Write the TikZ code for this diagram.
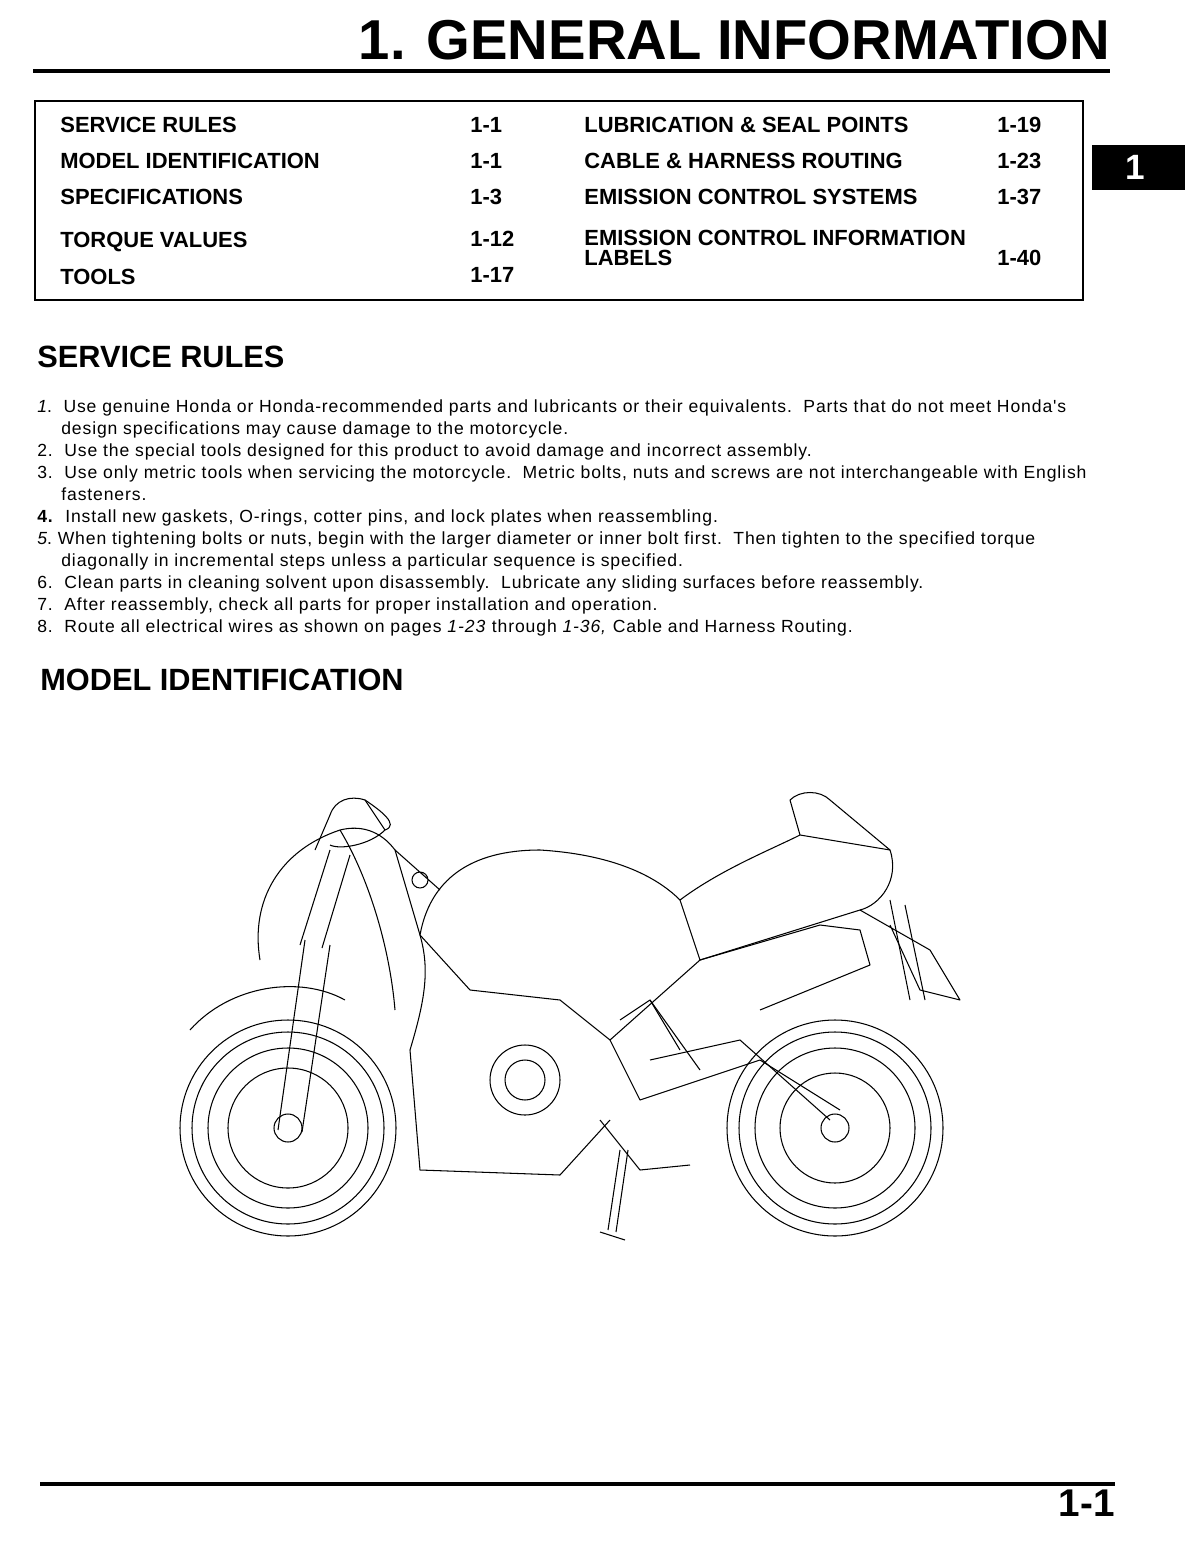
\documentclass[tikz,border=0pt]{standalone}
\usepackage{fontspec}
\setmainfont{Liberation Sans}
\newfontfamily\spacedfont[LetterSpace=5]{Liberation Sans}
\usetikzlibrary{positioning}
\begin{document}
\begin{tikzpicture}[x=0.02cm,y=-0.02cm,
    toc/.style={anchor=base west, font=\fontsize{12.5}{14}\selectfont\bfseries, inner sep=0pt},
    rule/.style={anchor=base west, font=\spacedfont\fontsize{10}{11}\selectfont, inner sep=0pt},
    head/.style={anchor=base west, font=\fontsize{17.5}{20}\selectfont\bfseries, inner sep=0pt},
    bike/.style={line width=0.6pt, line join=round}
  ]
  \useasboundingbox (0,0) rectangle (1188,1561);
  % title
  \node[anchor=base east, font=\fontsize{32}{34}\selectfont\bfseries, inner sep=0pt] (title) at (1110,60) {1. GENERAL INFORMATION};
  \draw[line width=2.2pt] (33,71) -- (1110,71);
  % contents box
  \draw[line width=0.8pt] (35,101) rectangle (1083,300);
  \node[toc] (t1) at (60,133) {SERVICE RULES};
  \node[toc] (t2) at (60,169) {MODEL IDENTIFICATION};
  \node[toc] (t3) at (60,205) {SPECIFICATIONS};
  \node[toc] (t4) at (60,248) {TORQUE VALUES};
  \node[toc] (t5) at (60,284) {TOOLS};
  \node[toc] (p1) at (470,133) {1-1};
  \node[toc] (p2) at (470,169) {1-1};
  \node[toc] (p3) at (470,205) {1-3};
  \node[toc] (p4) at (470,246) {1-12};
  \node[toc] (p5) at (470,282) {1-17};
  \node[toc] (r1) at (584,133) {LUBRICATION \& SEAL POINTS};
  \node[toc] (r2) at (584,169) {CABLE \& HARNESS ROUTING};
  \node[toc] (r3) at (584,205) {EMISSION CONTROL SYSTEMS};
  \node[toc] (r4) at (584,245) {EMISSION CONTROL INFORMATION};
  \node[toc] (r5) at (584,265) {LABELS};
  \node[toc] (q1) at (997,133) {1-19};
  \node[toc] (q2) at (997,169) {1-23};
  \node[toc] (q3) at (997,205) {1-37};
  \node[toc] (q5) at (997,265) {1-40};
  % chapter tab
  \fill (1092,145) rectangle (1185,190);
  \node[anchor=base, text=white, font=\fontsize{20}{22}\selectfont\bfseries, inner sep=0pt] (tab) at (1135,180) {1};
  % service rules
  \node[head] (sr) at (37,367) {SERVICE RULES};
  \node[rule] (l1) at (37,412) {\textit{1}.\ \ Use genuine Honda or Honda-recommended parts and lubricants or their equivalents.\ \ Parts that do not meet Honda's};
  \node[rule] (l2) at (61,434) {design specifications may cause damage to the motorcycle.};
  \node[rule] (l3) at (37,456) {2.\ \ Use the special tools designed for this product to avoid damage and incorrect assembly.};
  \node[rule] (l4) at (37,478) {3.\ \ Use only metric tools when servicing the motorcycle.\ \ Metric bolts, nuts and screws are not interchangeable with English};
  \node[rule] (l5) at (61,500) {fasteners.};
  \node[rule] (l6) at (37,522) {\textbf{4.}\ \ Install new gaskets, O-rings, cotter pins, and lock plates when reassembling.};
  \node[rule] (l7) at (37,544) {\textit{5}.\ When tightening bolts or nuts, begin with the larger diameter or inner bolt first.\ \ Then tighten to the specified torque};
  \node[rule] (l8) at (61,566) {diagonally in incremental steps unless a particular sequence is specified.};
  \node[rule] (l9) at (37,588) {6.\ \ Clean parts in cleaning solvent upon disassembly.\ \ Lubricate any sliding surfaces before reassembly.};
  \node[rule] (l10) at (37,610) {7.\ \ After reassembly, check all parts for proper installation and operation.};
  \node[rule] (l11) at (37,632) {8.\ \ Route all electrical wires as shown on pages \textit{1-23} through \textit{1-36,} Cable and Harness Routing.};
  \node[head] (mi) at (40,690) {MODEL IDENTIFICATION};
  % motorcycle
  \begin{scope}[bike]
    % wheels
    \foreach \cx in {288,835} {
      \draw (\cx,1128) circle (108);
      \draw (\cx,1128) circle (96);
      \draw (\cx,1128) circle (80);
      \draw (\cx,1128) circle (14);
    }
    \draw (288,1128) circle (60);
    \draw (835,1128) circle (55);
    % front fender and fork
    \draw (190,1030) .. controls (230,985) and (300,975) .. (345,1000);
    \draw (305,940) -- (278,1130) (330,945) -- (302,1132);
    \draw (330,850) -- (300,945) (350,855) -- (322,948);
    % fairing
    \draw (260,960) .. controls (250,900) and (280,850) .. (340,830)
          .. controls (360,825) and (380,830) .. (395,850) -- (420,935)
          .. controls (430,970) and (425,1000) .. (410,1050)
          -- (420,1170) -- (560,1175) -- (610,1120);
    \draw (340,830) .. controls (370,880) and (390,950) .. (395,1010);
    % mirror
    \draw (315,850) -- (330,815) .. controls (335,800) and (350,795) .. (365,800)
          -- (385,830) .. controls (370,845) and (340,850) .. (330,845);
    \draw (365,800) .. controls (380,810) and (400,825) .. (385,830);
    % tank
    \draw (420,935) .. controls (430,880) and (470,850) .. (540,850)
          .. controls (620,855) and (660,880) .. (680,900)
          -- (700,960) -- (610,1040) -- (560,1000) -- (470,990) -- cycle;
    % seat and tail
    \draw (680,900) .. controls (720,870) and (770,850) .. (800,835)
          -- (890,850) .. controls (900,880) and (880,905) .. (860,910)
          -- (700,960);
    \draw (800,835) -- (790,800) .. controls (800,790) and (820,790) .. (830,800) -- (890,850);
    \draw (860,910) -- (930,950) -- (960,1000) -- (920,990) -- (890,925);
    \draw (890,900) -- (910,1000) (905,905) -- (925,1000);
    % exhaust
    \draw (700,960) -- (820,925) -- (860,930) -- (870,965) -- (760,1010);
    % engine and frame
    \draw (525,1080) circle (35) (525,1080) circle (20);
    \draw (610,1040) -- (640,1100) -- (700,1080) -- (760,1060) -- (840,1110);
    \draw (650,1060) -- (740,1040) -- (830,1120);
    \draw (650,1000) -- (700,1070);
    \draw (600,1120) -- (640,1170) -- (690,1165);
    % footpeg and stand
    \draw (680,1050) -- (650,1000) -- (620,1020);
    \draw (620,1150) -- (608,1230) (628,1150) -- (616,1232);
    \draw (600,1232) -- (625,1240);
    % handlebar
    \draw (395,850) -- (440,890) (420,880) circle (8);
  \end{scope}
  % footer
  \draw[line width=2.2pt] (40,1484) -- (1115,1484);
  \node[anchor=base east, font=\fontsize{22}{24}\selectfont\bfseries, inner sep=0pt] (pg) at (1115,1516) {1-1};
\end{tikzpicture}
\end{document}
